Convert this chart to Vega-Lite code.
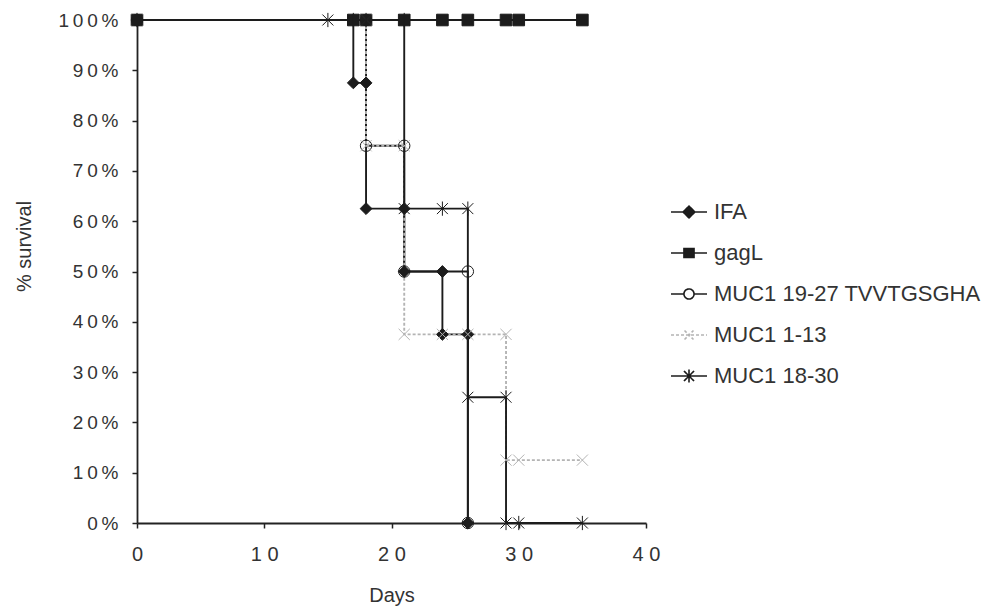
{
  "$schema": "https://vega.github.io/schema/vega-lite/v6.json",
  "width": 509,
  "height": 503,
  "autosize": "none",
  "padding": {"left": 137, "top": 20, "right": 351, "bottom": 85},
  "background": "white",
  "config": {
    "view": {"stroke": null},
    "font": "Liberation Sans",
    "axis": {
      "grid": false,
      "domainColor": "#222222",
      "domainWidth": 1.8,
      "tickColor": "#222222",
      "tickWidth": 1.5,
      "tickSize": 5,
      "labelFlush": false,
      "labelColor": "#333333",
      "labelFont": "Liberation Sans",
      "titleFont": "Liberation Sans",
      "titleColor": "#333333",
      "titleFontWeight": "normal"
    }
  },
  "data": {
    "values": [
      {"s": "IFA", "d": 0, "p": 100, "k": 1},
      {"s": "IFA", "d": 17, "p": 100, "k": 2},
      {"s": "IFA", "d": 17, "p": 87.5, "k": 3},
      {"s": "IFA", "d": 18, "p": 87.5, "k": 4},
      {"s": "IFA", "d": 18, "p": 62.5, "k": 5},
      {"s": "IFA", "d": 21, "p": 62.5, "k": 6},
      {"s": "IFA", "d": 21, "p": 50, "k": 7},
      {"s": "IFA", "d": 24, "p": 50, "k": 8},
      {"s": "IFA", "d": 24, "p": 37.5, "k": 9},
      {"s": "IFA", "d": 26, "p": 37.5, "k": 10},
      {"s": "IFA", "d": 26, "p": 0, "k": 11},
      {"s": "gagL", "d": 0, "p": 100, "k": 1},
      {"s": "gagL", "d": 17, "p": 100, "k": 2},
      {"s": "gagL", "d": 18, "p": 100, "k": 3},
      {"s": "gagL", "d": 21, "p": 100, "k": 4},
      {"s": "gagL", "d": 24, "p": 100, "k": 5},
      {"s": "gagL", "d": 26, "p": 100, "k": 6},
      {"s": "gagL", "d": 29, "p": 100, "k": 7},
      {"s": "gagL", "d": 30, "p": 100, "k": 8},
      {"s": "gagL", "d": 35, "p": 100, "k": 9},
      {"s": "MUC1 19-27 TVVTGSGHA", "d": 0, "p": 100, "k": 1},
      {"s": "MUC1 19-27 TVVTGSGHA", "d": 18, "p": 100, "k": 2},
      {"s": "MUC1 19-27 TVVTGSGHA", "d": 18, "p": 75, "k": 3},
      {"s": "MUC1 19-27 TVVTGSGHA", "d": 21, "p": 75, "k": 4},
      {"s": "MUC1 19-27 TVVTGSGHA", "d": 21, "p": 50, "k": 5},
      {"s": "MUC1 19-27 TVVTGSGHA", "d": 26, "p": 50, "k": 6},
      {"s": "MUC1 19-27 TVVTGSGHA", "d": 26, "p": 0, "k": 7},
      {"s": "MUC1 1-13", "d": 0, "p": 100, "k": 1},
      {"s": "MUC1 1-13", "d": 18, "p": 100, "k": 2},
      {"s": "MUC1 1-13", "d": 18, "p": 75, "k": 3},
      {"s": "MUC1 1-13", "d": 21, "p": 75, "k": 4},
      {"s": "MUC1 1-13", "d": 21, "p": 37.5, "k": 5},
      {"s": "MUC1 1-13", "d": 24, "p": 37.5, "k": 6},
      {"s": "MUC1 1-13", "d": 26, "p": 37.5, "k": 7},
      {"s": "MUC1 1-13", "d": 29, "p": 37.5, "k": 8},
      {"s": "MUC1 1-13", "d": 29, "p": 12.5, "k": 9},
      {"s": "MUC1 1-13", "d": 30, "p": 12.5, "k": 10},
      {"s": "MUC1 1-13", "d": 35, "p": 12.5, "k": 11},
      {"s": "MUC1 18-30", "d": 0, "p": 100, "k": 1},
      {"s": "MUC1 18-30", "d": 15, "p": 100, "k": 2},
      {"s": "MUC1 18-30", "d": 17, "p": 100, "k": 3},
      {"s": "MUC1 18-30", "d": 18, "p": 100, "k": 4},
      {"s": "MUC1 18-30", "d": 21, "p": 100, "k": 5},
      {"s": "MUC1 18-30", "d": 21, "p": 62.5, "k": 6},
      {"s": "MUC1 18-30", "d": 24, "p": 62.5, "k": 7},
      {"s": "MUC1 18-30", "d": 26, "p": 62.5, "k": 8},
      {"s": "MUC1 18-30", "d": 26, "p": 25, "k": 9},
      {"s": "MUC1 18-30", "d": 29, "p": 25, "k": 10},
      {"s": "MUC1 18-30", "d": 29, "p": 0, "k": 11},
      {"s": "MUC1 18-30", "d": 30, "p": 0, "k": 12},
      {"s": "MUC1 18-30", "d": 35, "p": 0, "k": 13}
    ]
  },
  "resolve": {
    "scale": {
      "color": "independent",
      "fill": "independent",
      "stroke": "independent",
      "strokeDash": "independent",
      "strokeWidth": "independent",
      "shape": "independent",
      "size": "independent"
    }
  },
  "layer": [
    {
      "mark": {"type": "line", "interpolate": "linear"},
      "encoding": {
        "x": {
          "field": "d", "type": "quantitative",
          "scale": {"domain": [0, 40], "nice": false, "zero": false},
          "axis": {
            "values": [0, 10, 20, 30, 40],
            "title": "Days",
            "titleFontSize": 20,
            "titleY": 78,
            "titleBaseline": "alphabetic",
            "labelFontSize": 20,
            "labelPadding": 16,
            "labelExpr": "join(split(datum.label, ''), ' ')"
          }
        },
        "y": {
          "field": "p", "type": "quantitative",
          "scale": {"domain": [0, 100], "nice": false},
          "axis": {
            "values": [0, 10, 20, 30, 40, 50, 60, 70, 80, 90, 100],
            "title": "% survival",
            "titleFontSize": 20,
            "titleAngle": 270,
            "titleX": -113,
            "titleY": 226,
            "titleAlign": "center",
            "titleBaseline": "middle",
            "labelFontSize": 19,
            "labelPadding": 14,
            "labelExpr": "join(split(format(datum.value, 'd') + '%', ''), '\u2009')"
          }
        },
        "order": {"field": "k", "type": "quantitative"},
        "color": {
          "field": "s", "type": "nominal",
          "scale": {
            "domain": ["IFA", "gagL", "MUC1 19-27 TVVTGSGHA", "MUC1 1-13", "MUC1 18-30"],
            "range": ["#1c1c1c", "#1c1c1c", "#1c1c1c", "#b4b4b4", "#1c1c1c"]
          },
          "legend": null
        },
        "strokeDash": {
          "field": "s", "type": "nominal",
          "scale": {
            "domain": ["IFA", "gagL", "MUC1 19-27 TVVTGSGHA", "MUC1 1-13", "MUC1 18-30"],
            "range": [[1, 0], [1, 0], [1, 0], [3, 2], [1, 0]]
          },
          "legend": null
        },
        "strokeWidth": {
          "field": "s", "type": "nominal",
          "scale": {
            "domain": ["IFA", "gagL", "MUC1 19-27 TVVTGSGHA", "MUC1 1-13", "MUC1 18-30"],
            "range": [1.9, 1.9, 1.9, 1.3, 1.9]
          },
          "legend": null
        }
      }
    },
    {
      "mark": {"type": "point", "opacity": 1},
      "encoding": {
        "x": {"field": "d", "type": "quantitative"},
        "y": {"field": "p", "type": "quantitative"},
        "fill": {
          "field": "s", "type": "nominal",
          "scale": {
            "domain": ["IFA", "gagL", "MUC1 19-27 TVVTGSGHA", "MUC1 1-13", "MUC1 18-30"],
            "range": ["#1c1c1c", "#1c1c1c", "transparent", "transparent", "transparent"]
          },
          "legend": null
        },
        "shape": {
          "field": "s", "type": "nominal",
          "scale": {
            "domain": ["IFA", "gagL", "MUC1 19-27 TVVTGSGHA", "MUC1 1-13", "MUC1 18-30"],
            "range": ["diamond", "square", "circle", "M-1,-1L1,1M-1,1L1,-1", "M-1,-1L1,1M-1,1L1,-1M0,-1.3L0,1.3"]
          },
          "legend": null
        },
        "stroke": {
          "field": "s", "type": "nominal",
          "scale": {
            "domain": ["IFA", "gagL", "MUC1 19-27 TVVTGSGHA", "MUC1 1-13", "MUC1 18-30"],
            "range": ["#1c1c1c", "#1c1c1c", "#1c1c1c", "#b4b4b4", "#1c1c1c"]
          },
          "legend": null
        },
        "strokeWidth": {
          "field": "s", "type": "nominal",
          "scale": {
            "domain": ["IFA", "gagL", "MUC1 19-27 TVVTGSGHA", "MUC1 1-13", "MUC1 18-30"],
            "range": [1, 1, 1.5, 1.4, 2]
          },
          "legend": null
        },
        "size": {
          "field": "s", "type": "nominal",
          "scale": {
            "domain": ["IFA", "gagL", "MUC1 19-27 TVVTGSGHA", "MUC1 1-13", "MUC1 18-30"],
            "range": [140, 120, 110, 120, 140]
          },
          "legend": null
        }
      }
    },
    {
      "transform": [{"filter": "datum.k < 0"}],
      "mark": {"type": "point", "opacity": 1, "size": 1296, "strokeWidth": 1.6},
      "encoding": {
        "x": {"field": "d", "type": "quantitative"},
        "y": {"field": "p", "type": "quantitative"},
        "fill": {
          "field": "s", "type": "nominal",
          "scale": {
            "domain": ["IFA", "gagL", "MUC1 19-27 TVVTGSGHA", "MUC1 1-13", "MUC1 18-30"],
            "range": ["#1c1c1c", "#1c1c1c", "transparent", "transparent", "transparent"]
          },
          "legend": {
            "title": null,
            "orient": "none",
            "legendX": 533,
            "legendY": 173,
            "direction": "vertical",
            "padding": 0,
            "symbolSize": 1296,
            "symbolStrokeWidth": 1.6,
            "labelFont": "Liberation Sans",
            "labelFontSize": 22,
            "labelColor": "#333333",
            "labelOffset": 6,
            "labelLimit": 500,
            "rowPadding": 11
          }
        },
        "stroke": {
          "field": "s", "type": "nominal",
          "scale": {
            "domain": ["IFA", "gagL", "MUC1 19-27 TVVTGSGHA", "MUC1 1-13", "MUC1 18-30"],
            "range": ["#1c1c1c", "#1c1c1c", "#1c1c1c", "#b4b4b4", "#1c1c1c"]
          }
        },
        "strokeDash": {
          "field": "s", "type": "nominal",
          "scale": {
            "domain": ["IFA", "gagL", "MUC1 19-27 TVVTGSGHA", "MUC1 1-13", "MUC1 18-30"],
            "range": [[1, 0], [1, 0], [1, 0], [3, 2], [1, 0]]
          }
        },
        "shape": {
          "field": "s", "type": "nominal",
          "scale": {
            "domain": ["IFA", "gagL", "MUC1 19-27 TVVTGSGHA", "MUC1 1-13", "MUC1 18-30"],
            "range": [
              "M-1,0H1M0,-0.33L0.33,0L0,0.33L-0.33,0Z",
              "M-1,0H1M-0.28,-0.25H0.28V0.25H-0.28Z",
              "M-1,0H-0.28M0.28,0H1M0.28,0A0.28,0.28 0 1,1 -0.28,0A0.28,0.28 0 1,1 0.28,0Z",
              "M-1,0H1M-0.25,-0.25L0.25,0.25M-0.25,0.25L0.25,-0.25",
              "M-1,0H1M-0.28,-0.28L0.28,0.28M-0.28,0.28L0.28,-0.28M0,-0.36V0.36"
            ]
          }
        }
      }
    }
  ]
}
